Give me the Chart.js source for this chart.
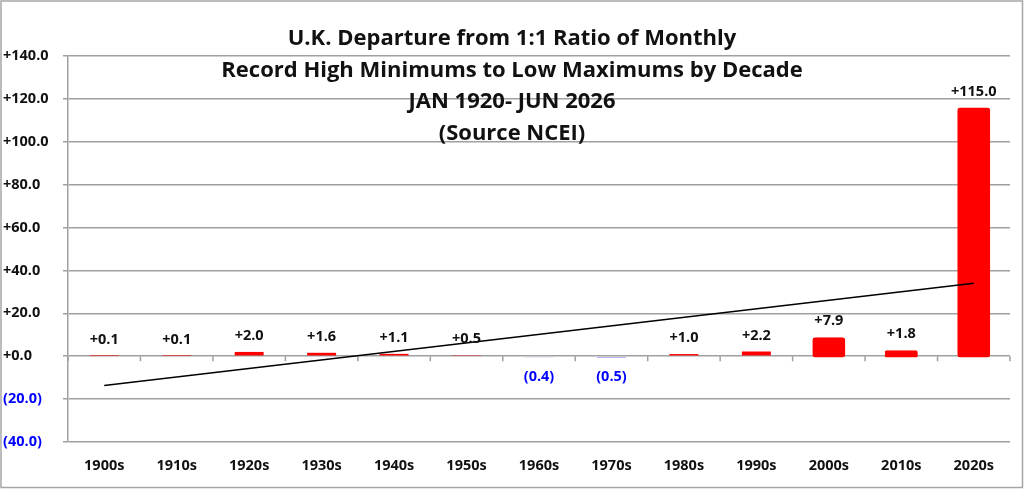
<!DOCTYPE html>
<html>
<head>
<meta charset="utf-8">
<script src="https://cdn.jsdelivr.net/npm/chart.js@4"></script>
<style>
  body { margin: 0; background: #fff; }
  #wrap { width: 1024px; height: 489px; position: relative; }
</style>
</head>
<body>
<div id="wrap"><canvas id="ratiochart"></canvas></div>
<script>
// data
const decades = ['1900s', '1910s', '1920s', '1930s', '1940s', '1950s', '1960s',
                 '1970s', '1980s', '1990s', '2000s', '2010s', '2020s'];
const departure = [0.1, 0.1, 2.0, 1.6, 1.1, 0.5, -0.4, -0.5, 1.0, 2.2, 7.9, 1.8, 115.0];
// trend line ends (first and last decade)
const trendEnds = [-13.6, 34.0];
const yTicks = [-40, -20, 0, 20, 40, 60, 80, 100, 120, 140];
const titleLines = ['U.K. Departure from 1:1 Ratio of Monthly',
                    'Record High Minimums to Low Maximums by Decade',
                    'JAN 1920- JUN 2026',
                    '(Source NCEI)'];

const RED = '#ff0000';
const BLUE = '#0000ff';
const GRID = '#a0a0a0';
const FONT = '"Open Sans", sans-serif';
// the last three decades are drawn with a heavier rounded outline
const isRecent = i => i >= decades.length - 3;

function fmt(v) {
  return v >= 0 ? '+' + v.toFixed(1) : '(' + Math.abs(v).toFixed(1) + ')';
}

// trend series: only first and last point, gap in between
const trend = decades.map((d, i) => {
  if (i === 0) return trendEnds[0];
  if (i === decades.length - 1) return trendEnds[1];
  return null;
});

// start extras plugin (title, value labels, zero ticks, frame)
const extras = {
  id: 'extras',
  beforeDatasetsDraw(chart) {
    const ctx = chart.ctx;
    const x = chart.scales.x, y = chart.scales.y;
    const y0 = y.getPixelForValue(0);
    ctx.save();
    ctx.strokeStyle = GRID;
    ctx.lineWidth = 1.5;
    ctx.beginPath();
    for (let i = 0; i <= decades.length; i++) {
      const px = x.left + i * (x.width / decades.length);
      ctx.moveTo(px, y0);
      ctx.lineTo(px, y0 + 5);
    }
    ctx.stroke();
    ctx.restore();
  },
  afterDatasetsDraw(chart) {
    const ctx = chart.ctx;
    const y = chart.scales.y;
    const y0 = y.getPixelForValue(0);
    const bars = chart.getDatasetMeta(0).data;
    ctx.save();
    ctx.font = 'bold 14.5px ' + FONT;
    ctx.textAlign = 'center';
    ctx.textBaseline = 'middle';
    bars.forEach((bar, i) => {
      const v = departure[i];
      if (v >= 0) {
        ctx.fillStyle = '#111';
        ctx.fillText(fmt(v), bar.x, y.getPixelForValue(v) - (isRecent(i) ? 18 : 16));
      } else {
        ctx.fillStyle = BLUE;
        ctx.fillText(fmt(v), bar.x, y0 + 21);
      }
    });
    // title sits over the plot
    ctx.fillStyle = '#111';
    ctx.font = 'bold 22px ' + FONT;
    titleLines.forEach((t, i) => {
      ctx.fillText(t, chart.width / 2, 39 + i * 31.5);
    });
    // outer frame
    ctx.strokeStyle = '#a6a6a6';
    ctx.lineWidth = 1.5;
    ctx.strokeRect(1, 1, chart.width - 2.5, chart.height - 2.5);
    ctx.restore();
  }
};
// end extras plugin

const ctx = document.getElementById('ratiochart');

new Chart(ctx, {
  data: {
    labels: decades,
    datasets: [{
      type: 'bar',
      data: departure,
      order: 1,
      backgroundColor: c => departure[c.dataIndex] < 0 ? BLUE : RED,
      borderColor: c => departure[c.dataIndex] < 0 ? BLUE : RED,
      borderWidth: c => isRecent(c.dataIndex) ? 1.5 : 0,
      inflateAmount: c => isRecent(c.dataIndex) ? 2 : 0,
      borderRadius: c => isRecent(c.dataIndex) ? 3 : 0,
      borderSkipped: false,
      barPercentage: 0.40,
      categoryPercentage: 1.0
    }, {
      type: 'line',
      data: trend,
      order: 0,
      spanGaps: true,
      borderColor: '#000',
      borderWidth: 1.5,
      pointRadius: 0,
      fill: false
    }]
  },
  options: {
    responsive: true,
    maintainAspectRatio: false,
    animation: false,
    layout: { padding: { left: 3, right: 14, top: 56, bottom: 0 } },
    plugins: {
      legend: { display: false },
      tooltip: { enabled: false }
    },
    scales: {
      x: {
        offset: true,
        grid: { display: false, drawTicks: false },
        border: { display: false },
        ticks: {
          padding: 15,
          color: '#111',
          font: { family: FONT, size: 14.5, weight: 'bold' },
          maxRotation: 0
        },
        afterFit: s => { s.height = 47; }
      },
      y: {
        min: yTicks[0],
        max: yTicks[yTicks.length - 1],
        afterBuildTicks: s => { s.ticks = yTicks.map(v => ({ value: v })); },
        grid: { color: GRID, lineWidth: 1.5, tickLength: 5 },
        border: { display: true, color: GRID, width: 1.5 },
        ticks: {
          crossAlign: 'far',
          callback: v => fmt(v),
          color: c => c.tick && c.tick.value < 0 ? BLUE : '#111',
          font: { family: FONT, size: 14.5, weight: 'bold' }
        },
        afterFit: s => { s.width = 65; }
      }
    }
  },
  plugins: [extras]
});
</script>
</body>
</html>
